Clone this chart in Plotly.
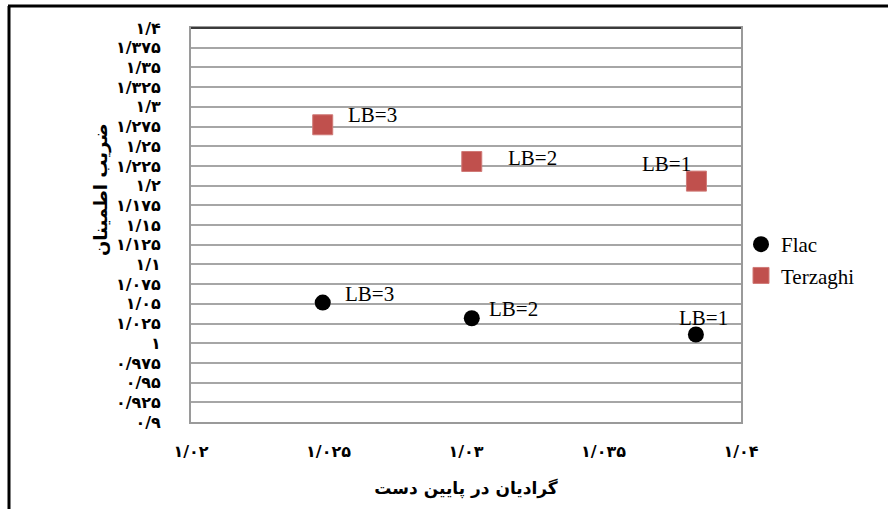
import plotly.graph_objects as go

# ---------------------- Data ----------------------
flac_x = [1.02479, 1.03021, 1.03836]
flac_y = [1.0515, 1.0317, 1.0110]
terz_x = [1.02479, 1.03021, 1.03838]
terz_y = [1.2772, 1.2306, 1.2057]
point_labels = ["LB=3", "LB=2", "LB=1"]

x_tickvals = [1.02, 1.025, 1.03, 1.035, 1.04]
x_ticktext = ["۱/۰۲", "۱/۰۲۵", "۱/۰۳", "۱/۰۳۵", "۱/۰۴"]
y_tickvals = [0.9, 0.925, 0.95, 0.975, 1.0, 1.025, 1.05, 1.075, 1.1, 1.125, 1.15,
              1.175, 1.2, 1.225, 1.25, 1.275, 1.3, 1.325, 1.35, 1.375, 1.4]
y_ticktext = ["۰/۹", "۰/۹۲۵", "۰/۹۵", "۰/۹۷۵", "۱", "۱/۰۲۵", "۱/۰۵", "۱/۰۷۵", "۱/۱",
              "۱/۱۲۵", "۱/۱۵", "۱/۱۷۵", "۱/۲", "۱/۲۲۵", "۱/۲۵", "۱/۲۷۵", "۱/۳",
              "۱/۳۲۵", "۱/۳۵", "۱/۳۷۵", "۱/۴"]

# label offsets in px (text left edge / vertical middle relative to marker)
flac_off = [(20, 9), (15, 9), (-19, 17)]
terz_off = [(23, 10), (34, 3), (-56, 17)]

W, H = 888, 509
ML, MR, MT, MB = 191, 147, 28, 87
PW, PH = W - ML - MR, H - MT - MB

SERIF = "Liberation Serif"
ARAB = "DejaVu Sans"


def px_x(v):
    return (v - ML) / PW


def px_y(v):
    return (MT + PH - v) / PH


fig = go.Figure()
fig.add_trace(go.Scatter(
    x=flac_x, y=flac_y, mode="markers", name="Flac", legendgroup="f",
    marker=dict(symbol="circle", size=16, color="black"),
))
fig.add_trace(go.Scatter(
    x=terz_x, y=terz_y, mode="markers", name="Terzaghi", legendgroup="t",
    marker=dict(symbol="square", size=20, color="#c0504d",
                line=dict(color="#d07a77", width=1)),
))

for xs, ys, offs in [(flac_x, flac_y, flac_off), (terz_x, terz_y, terz_off)]:
    for x, y, lab, (dx, dy) in zip(xs, ys, point_labels, offs):
        fig.add_annotation(
            x=x, y=y, text=lab, showarrow=False,
            xanchor="left", yanchor="middle", xshift=dx, yshift=dy,
            font=dict(family=SERIF, size=21, color="black"),
        )

# y axis title (placed like Excel, a bit above centre)
fig.add_annotation(
    xref="paper", yref="paper", x=px_x(101), y=px_y(190),
    xanchor="center", yanchor="middle",
    text="ضریب اطمینان", textangle=-90, showarrow=False,
    font=dict(family=ARAB, size=18, color="black", weight="bold"),
)

# outer frame of the screenshot (left + top black lines)
fig.add_shape(type="line", xref="paper", yref="paper",
              x0=px_x(9), x1=px_x(9), y0=px_y(6), y1=px_y(515),
              line=dict(color="black", width=3))
fig.add_shape(type="line", xref="paper", yref="paper",
              x0=px_x(8), x1=px_x(895), y0=px_y(6), y1=px_y(6),
              line=dict(color="black", width=3))
# darker top edge of the plot area
fig.add_shape(type="line", xref="paper", yref="paper",
              x0=0, x1=1, y0=1, y1=1, line=dict(color="#3a3a3a", width=2))

fig.update_xaxes(
    range=[1.02, 1.04], tickvals=x_tickvals, ticktext=x_ticktext,
    showgrid=False, zeroline=False, showline=True, mirror=True,
    linecolor="#9a9a9a", linewidth=2, ticks="", ticklabelstandoff=14,
    tickfont=dict(family=ARAB, size=16, color="black", weight="bold"),
    title=dict(text="گرادیان در پایین دست", standoff=22,
               font=dict(family=ARAB, size=17, color="black", weight="bold")),
)
fig.update_yaxes(
    range=[0.9, 1.4], tickvals=y_tickvals, ticktext=y_ticktext,
    showgrid=True, gridcolor="#a6a6a6", gridwidth=1.5, zeroline=False,
    showline=True, mirror=True, linecolor="#9a9a9a", linewidth=2,
    ticks="", ticklabelstandoff=25,
    tickfont=dict(family=ARAB, size=16, color="black", weight="bold"),
)

fig.update_layout(
    width=W, height=H,
    margin=dict(l=ML, r=MR, t=MT, b=MB),
    paper_bgcolor="white", plot_bgcolor="white",
    showlegend=True,
    legend=dict(x=px_x(741), y=px_y(224),
                xanchor="left", yanchor="top", bgcolor="rgba(0,0,0,0)",
                font=dict(family=SERIF, size=21, color="black"),
                itemwidth=30, tracegroupgap=1),
)

fig.write_html("out.html", config={"displayModeBar": False},
               post_script="document.body.style.margin='0';")
